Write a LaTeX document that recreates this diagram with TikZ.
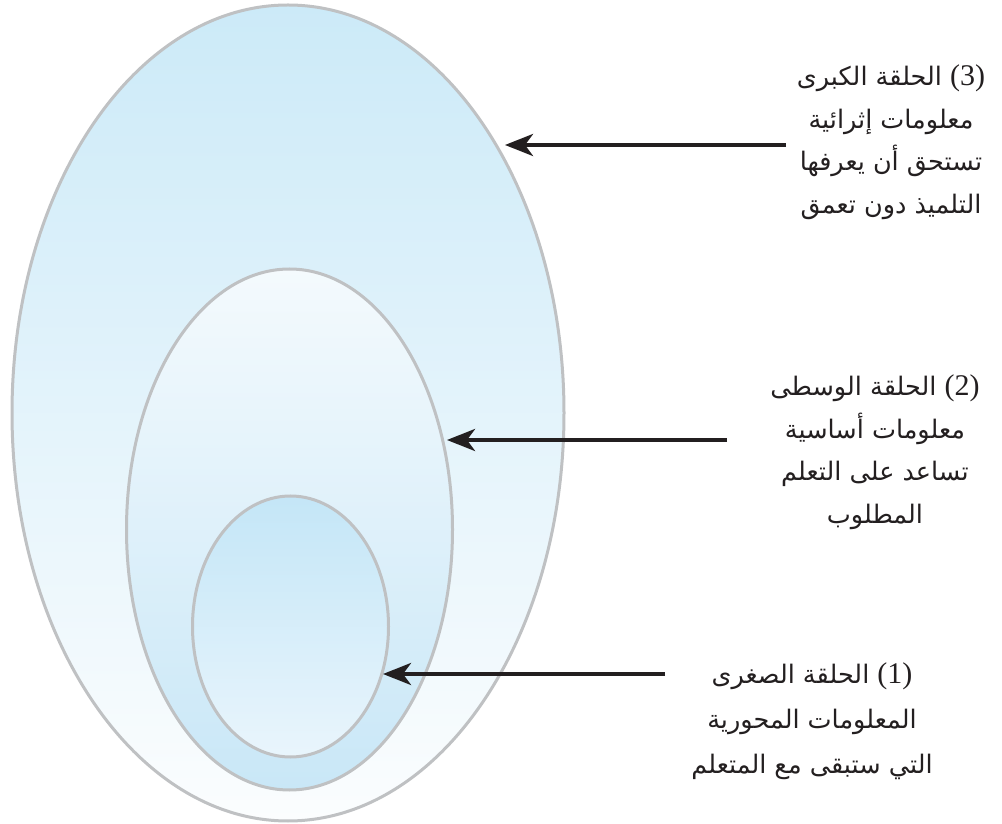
\documentclass[tikz,border=0pt]{standalone}
\usepackage{fontspec}
\newfontfamily\arabicfont[Script=Arabic]{DejaVu Sans}
\newfontfamily\numfont{Liberation Serif}
\TeXXeTstate=1
\usetikzlibrary{arrows.meta,shapes.geometric}
\definecolor{ringgray}{HTML}{BFC1C3}
\definecolor{inkblack}{HTML}{231F20}
\definecolor{outerTop}{HTML}{CCEAF8}
\definecolor{outerBot}{HTML}{FBFDFE}
\definecolor{midTop}{HTML}{F4FAFD}
\definecolor{midBot}{HTML}{C9E7F7}
\definecolor{innTop}{HTML}{C4E6F7}
\definecolor{innBot}{HTML}{E9F5FC}
\newcommand{\ringnum}[1]{{\numfont\fontsize{30}{30}\selectfont(#1)}}
\tikzset{
  ring/.style={ellipse, draw=ringgray, line width=3pt, inner sep=0pt, outer sep=0pt},
  pointer/.style={draw=inkblack, line width=4pt, -{Stealth[length=28pt,width=22pt,inset=8pt]}},
  lbl/.style={align=center, text=inkblack, inner sep=0pt, font=\arabicfont\fontsize{25.5}{42.5}\selectfont}
}
\begin{document}
\begin{tikzpicture}[x=1pt,y=1pt]
\useasboundingbox (0,0) rectangle (1002,823);
\node[ring, minimum width=552pt, minimum height=816pt, top color=outerTop, bottom color=outerBot] (outer) at (288,410) {};
\node[ring, minimum width=326pt, minimum height=521pt, top color=midTop, bottom color=midBot] (middle) at (289.5,293.5) {};
\node[ring, minimum width=196pt, minimum height=261pt, top color=innTop, bottom color=innBot] (inner) at (290.5,196.5) {};

\coordinate (s3) at (786,678);
\coordinate (e3) at (505,678);
\coordinate (s2) at (727,383);
\coordinate (e2) at (447,383);
\coordinate (s1) at (665,149);
\coordinate (e1) at (383,149);
\draw[pointer] (s3) -- (e3);
\draw[pointer] (s2) -- (e2);
\draw[pointer] (s1) -- (e1);

\node[lbl] (t3) at (891,681) {\beginR الحلقة الكبرى\endR\ \ringnum{3}\\
\beginR معلومات إثرائية\endR\\
\beginR تستحق أن يعرفها\endR\\
\beginR التلميذ دون تعمق\endR};
\node[lbl] (t2) at (875,371) {\beginR الحلقة الوسطى\endR\ \ringnum{2}\\
\beginR معلومات أساسية\endR\\
\beginR تساعد على التعلم\endR\\
\beginR المطلوب\endR};
\node[lbl, font=\arabicfont\fontsize{25.5}{45}\selectfont] (t1) at (812,102) {\beginR الحلقة الصغرى\endR\ \ringnum{1}\\
\beginR المعلومات المحورية\endR\\
\beginR التي ستبقى مع المتعلم\endR};
\end{tikzpicture}
\end{document}
